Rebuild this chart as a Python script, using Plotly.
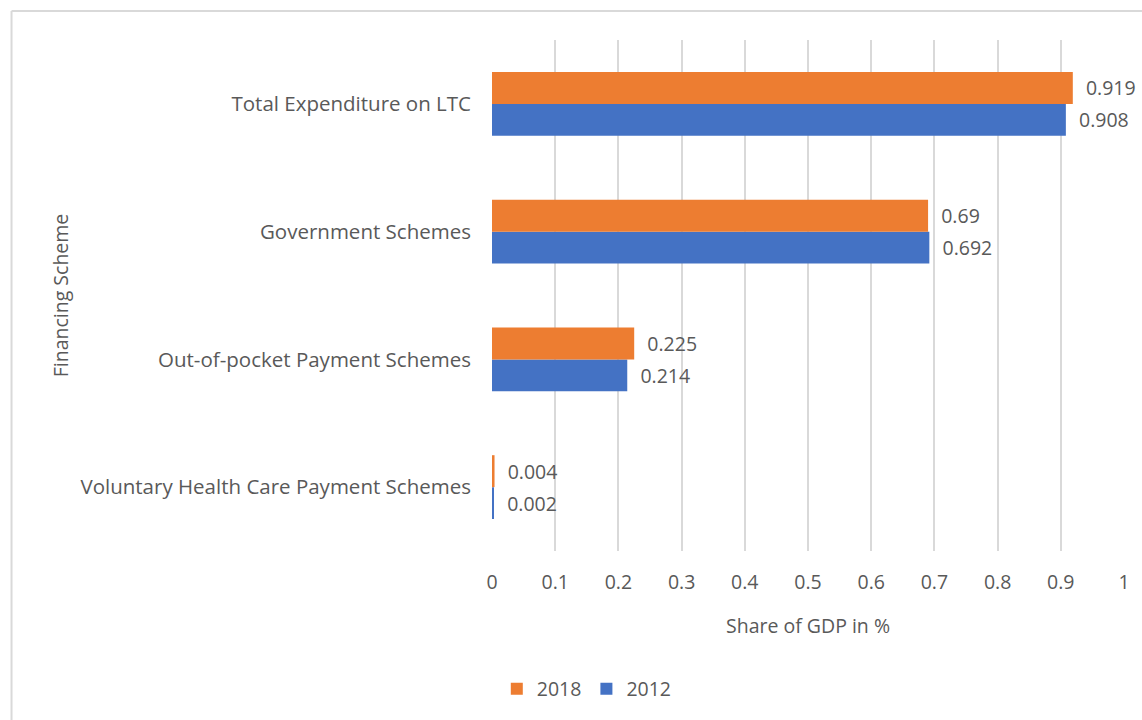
import plotly.graph_objects as go

categories = ["Voluntary Health Care Payment Schemes", "Out-of-pocket Payment Schemes",
              "Government Schemes", "Total Expenditure on LTC"]
values_2012 = [0.002, 0.214, 0.692, 0.908]
values_2018 = [0.004, 0.225, 0.69, 0.919]
labels_2012 = ["0.002", "0.214", "0.692", "0.908"]
labels_2018 = ["0.004", "0.225", "0.69", "0.919"]
x_ticks = [0, 0.1, 0.2, 0.3, 0.4, 0.5, 0.6, 0.7, 0.8, 0.9, 1]
x_ticklabels = ["0", "0.1", "0.2", "0.3", "0.4", "0.5", "0.6", "0.7", "0.8", "0.9", "1"]

FONT = "'Open Sans', sans-serif"
GRAY = "#595959"
FS = 19.5

fig = go.Figure()
fig.add_trace(go.Bar(
    y=categories, x=values_2012, name="2012", orientation="h",
    marker=dict(color="#4472C4", line=dict(width=0)),
    text=["  " + t for t in labels_2012], textposition="outside", cliponaxis=False,
    textfont=dict(family=FONT, size=FS, color=GRAY),
))
fig.add_trace(go.Bar(
    y=categories, x=values_2018, name="2018", orientation="h",
    marker=dict(color="#ED7D31", line=dict(width=0)),
    text=["  " + t for t in labels_2018], textposition="outside", cliponaxis=False,
    textfont=dict(family=FONT, size=FS, color=GRAY),
))

fig.update_layout(
    width=1142, height=720,
    margin=dict(l=492, r=16, t=40, b=168),
    paper_bgcolor="white", plot_bgcolor="white",
    barmode="group", bargap=0.5, bargroupgap=0,
    font=dict(family=FONT, size=FS, color=GRAY),
    showlegend=True,
    legend=dict(orientation="h", x=0.15, y=-0.232, xanchor="center", yanchor="top",
                traceorder="reversed", font=dict(size=FS, color=GRAY),
                itemwidth=30),
    xaxis=dict(range=[0, 1], tickvals=x_ticks, ticktext=x_ticklabels,
               showgrid=True, gridcolor="#D9D9D9", gridwidth=2,
               zeroline=False, showline=False, ticks="", ticklabelstandoff=17,
               title=dict(text="Share of GDP in %", standoff=25,
                          font=dict(size=FS, color=GRAY))),
    yaxis=dict(showgrid=False, zeroline=False, showline=False, ticks="",
               ticklabelstandoff=20, tickfont=dict(size=20.5),
               title=dict(text="Financing Scheme", standoff=6,
                          font=dict(size=FS, color=GRAY))),
    shapes=[
        dict(type="line", xref="paper", yref="paper",
             x0=(10 - 492) / 634, x1=(1142 - 492) / 634 + 0.01,
             y0=1 + (40 - 11) / 512, y1=1 + (40 - 11) / 512,
             line=dict(color="#D9D9D9", width=2)),
        dict(type="line", xref="paper", yref="paper",
             x0=(10 - 492) / 634, x1=(10 - 492) / 634,
             y0=1 + (40 - 11) / 512, y1=-(720 - 552) / 512 - 0.01,
             line=dict(color="#D9D9D9", width=2)),
    ],
)
fig.write_html("out.html")
